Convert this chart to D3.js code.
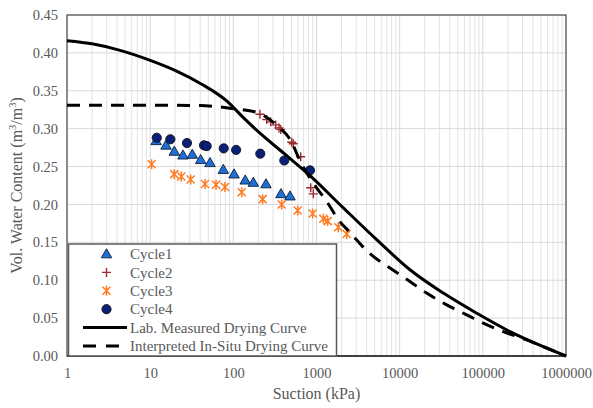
<!DOCTYPE html>
<html><head><meta charset="utf-8">
<script src="https://cdn.jsdelivr.net/npm/d3@7"></script>
<style>body{margin:0;background:#fff}svg{display:block}</style>
</head><body><svg id="c" width="593" height="408"></svg>
<script>
// ---- data ----
const xTicks = [1, 10, 100, 1000, 10000, 100000, 1000000];
const yTicks = [0, 0.05, 0.10, 0.15, 0.20, 0.25, 0.30, 0.35, 0.40, 0.45];

const cycle1Suction = [11.8, 15.5, 19.5, 24.8, 32.1, 40.5, 52.4, 75.8, 102, 139, 174, 247, 374, 480];
const cycle1Theta   = [0.284, 0.278, 0.270, 0.265, 0.266, 0.259, 0.255, 0.246, 0.240, 0.232, 0.229, 0.227, 0.214, 0.211];

const cycle2Suction = [209, 252, 281, 323, 354, 371, 503, 526, 646, 852, 916];
const cycle2Theta   = [0.319, 0.312, 0.309, 0.305, 0.301, 0.299, 0.282, 0.280, 0.263, 0.222, 0.214];

const cycle3Suction = [10.4, 19.5, 23.7, 30.7, 45.6, 61.9, 79.4, 126, 225, 381, 594, 899, 1208, 1362, 1828, 2307];
const cycle3Theta   = [0.253, 0.240, 0.237, 0.233, 0.227, 0.226, 0.223, 0.216, 0.207, 0.200, 0.192, 0.188, 0.181, 0.178, 0.170, 0.161];

const cycle4Suction = [12.0, 17.5, 27.7, 44.4, 47.8, 76.6, 108, 211, 410, 835];
const cycle4Theta   = [0.288, 0.286, 0.281, 0.278, 0.277, 0.274, 0.272, 0.267, 0.258, 0.245];

const labSuction = [1, 2.07, 4.14, 10.4, 20.8, 41.7, 83.2, 132, 209, 410, 835, 2100, 5290, 13300, 33500, 84300, 212000, 533000, 1000000];
const labTheta   = [0.416, 0.4116, 0.404, 0.3895, 0.376, 0.3587, 0.3366, 0.3146, 0.294, 0.267, 0.238, 0.1955, 0.1535, 0.1138, 0.083, 0.0565, 0.0322, 0.0123, 0];

const situSuction = [1, 10, 39.7, 91, 198, 332, 480, 664, 1005, 1327, 1828, 2529, 4400, 7650, 13300, 21100, 40300, 64000, 101000, 176000, 337000, 533000, 1000000];
const situTheta   = [0.331, 0.331, 0.3305, 0.327, 0.321, 0.3044, 0.286, 0.2528, 0.222, 0.204, 0.180, 0.163, 0.135, 0.116, 0.0983, 0.083, 0.0652, 0.0543, 0.0433, 0.0322, 0.0212, 0.0123, 0];

const legendLabels = ["Cycle1", "Cycle2", "Cycle3", "Cycle4", "Lab. Measured Drying Curve", "Interpreted In-Situ Drying Curve"];

// ---- layout ----
const L = 67, R = 566, T = 15, B = 356;
const svg = d3.select("#c");
const x = d3.scaleLog().domain([1, 1000000]).range([L, R]);
const y = d3.scaleLinear().domain([0, 0.45]).range([B, T]);
const serif = "Liberation Serif";
const textCol = "#595959";

// gridlines
const minor = [];
for (let d = 1; d < 1000000; d *= 10) for (let k = 2; k <= 9; k++) minor.push(d * k);
svg.append("g").selectAll("line").data(minor).join("line")
  .attr("x1", d => x(d)).attr("x2", d => x(d)).attr("y1", T).attr("y2", B)
  .attr("stroke", "#e3e3e3").attr("stroke-width", 1);
svg.append("g").selectAll("line").data(xTicks).join("line")
  .attr("x1", d => x(d)).attr("x2", d => x(d)).attr("y1", T).attr("y2", B)
  .attr("stroke", "#d9d9d9").attr("stroke-width", 1);
svg.append("g").selectAll("line").data(yTicks).join("line")
  .attr("x1", L).attr("x2", R).attr("y1", d => y(d)).attr("y2", d => y(d))
  .attr("stroke", "#d9d9d9").attr("stroke-width", 1);

// axes
const xAxis = svg.append("g").attr("transform", `translate(0,${B})`)
  .call(d3.axisBottom(x).tickValues(xTicks).tickFormat(d3.format("d")).tickSize(0).tickPadding(12));
const yAxis = svg.append("g").attr("transform", `translate(${L},0)`)
  .call(d3.axisLeft(y).tickValues(yTicks).tickFormat(d3.format(".2f")).tickSize(0).tickPadding(9));
[xAxis, yAxis].forEach(a => {
  a.attr("font-family", serif);
  a.select(".domain").remove();
  a.selectAll("text").attr("font-family", serif).attr("font-size", 14.5).attr("fill", textCol);
});

// frame
svg.append("rect").attr("x", L).attr("y", T).attr("width", R - L).attr("height", B - T)
  .attr("fill", "none").attr("stroke", "#595959").attr("stroke-width", 1.3);
svg.append("line").attr("x1", L).attr("x2", R).attr("y1", B).attr("y2", B).attr("stroke", "#262626").attr("stroke-width", 1.5);

// axis titles
svg.append("text").attr("x", (L + R) / 2).attr("y", 399).attr("text-anchor", "middle")
  .attr("font-family", serif).attr("font-size", 16).attr("fill", textCol).text("Suction (kPa)");
const yt = svg.append("text").attr("transform", `translate(22,${(T + B) / 2}) rotate(-90)`)
  .attr("text-anchor", "middle").attr("font-family", serif).attr("font-size", 16).attr("fill", textCol);
yt.append("tspan").text("Vol. Water Content (m");
yt.append("tspan").attr("font-size", 10.5).attr("dy", -6).text("3");
yt.append("tspan").attr("dy", 6).text("/m");
yt.append("tspan").attr("font-size", 10.5).attr("dy", -6).text("3");
yt.append("tspan").attr("dy", 6).text(")");

// markers
const colTri = "#1f6fd6", colPlus = "#9b2b2f", colStar = "#ff7a22", colCirc = "#0a1f7a";
function drawTri(g, cx, cy) {
  g.append("path").attr("d", d3.symbol(d3.symbolTriangle, 48)()).attr("transform", `translate(${cx},${cy + 0.8})`)
    .attr("fill", colTri).attr("stroke", "#0d1f3a").attr("stroke-width", 0.9);
}
function drawPlus(g, cx, cy) {
  g.append("path").attr("d", `M${cx - 4.5},${cy}H${cx + 4.5}M${cx},${cy - 4.5}V${cy + 4.5}`)
    .attr("stroke", colPlus).attr("stroke-width", 1.4).attr("fill", "none");
}
function drawStar(g, cx, cy) {
  const a = 4;
  g.append("path").attr("d", `M${cx - a},${cy - a}L${cx + a},${cy + a}M${cx - a},${cy + a}L${cx + a},${cy - a}M${cx},${cy - a - 1}V${cy + a + 1}`)
    .attr("stroke", colStar).attr("stroke-width", 1.5).attr("fill", "none");
}
function drawCirc(g, cx, cy) {
  g.append("circle").attr("cx", cx).attr("cy", cy).attr("r", 4.6)
    .attr("fill", colCirc).attr("stroke", "#111").attr("stroke-width", 0.9);
}

const gm = svg.append("g");
cycle1Suction.forEach((s, i) => drawTri(gm, x(s), y(cycle1Theta[i])));
cycle2Suction.forEach((s, i) => drawPlus(gm, x(s), y(cycle2Theta[i])));
cycle3Suction.forEach((s, i) => drawStar(gm, x(s), y(cycle3Theta[i])));
cycle4Suction.forEach((s, i) => drawCirc(gm, x(s), y(cycle4Theta[i])));

// curves
const line = d3.line().x(d => x(d[0])).y(d => y(d[1])).curve(d3.curveMonotoneX);
svg.append("path").datum(labSuction.map((s, i) => [s, labTheta[i]])).attr("d", line)
  .attr("fill", "none").attr("stroke", "#000").attr("stroke-width", 3);
svg.append("path").datum(situSuction.map((s, i) => [s, situTheta[i]])).attr("d", line)
  .attr("fill", "none").attr("stroke", "#000").attr("stroke-width", 3).attr("stroke-dasharray", "13,9");

// legend
const lg = svg.append("g");
lg.append("rect").attr("x", 68.5).attr("y", 244).attr("width", 268).attr("height", 112)
  .attr("fill", "#fff").attr("stroke", "#595959").attr("stroke-width", 1.5);
const rowY = i => 254 + i * 18.4;
const mx = 106.5;
drawTri(lg, mx, rowY(0));
drawPlus(lg, mx, rowY(1));
drawStar(lg, mx, rowY(2));
drawCirc(lg, mx, rowY(3));
lg.append("line").attr("x1", 83).attr("x2", 127).attr("y1", rowY(4)).attr("y2", rowY(4)).attr("stroke", "#000").attr("stroke-width", 3);
lg.append("line").attr("x1", 83).attr("x2", 119).attr("y1", rowY(5)).attr("y2", rowY(5)).attr("stroke", "#000").attr("stroke-width", 3).attr("stroke-dasharray", "13,10");
legendLabels.forEach((t, i) => {
  lg.append("text").attr("x", 130).attr("y", rowY(i)).attr("dy", "0.35em")
    .attr("font-family", serif).attr("font-size", 15).attr("fill", textCol).text(t);
});
</script></body></html>
